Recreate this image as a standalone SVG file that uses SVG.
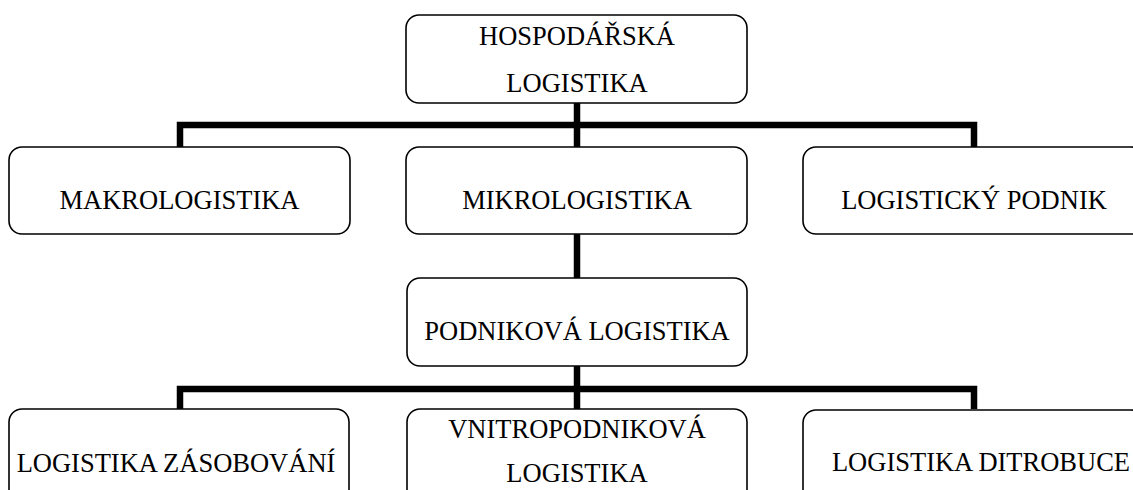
<svg xmlns="http://www.w3.org/2000/svg" width="1133" height="490" viewBox="0 0 1133 490">
<style>
.box{fill:#fff;stroke:#000;stroke-width:1.6}
.lbl{font-family:"Liberation Serif","Times New Roman",serif;font-size:26.5px;fill:#000;text-anchor:middle}
.conn{fill:none;stroke:#000;stroke-width:6.5}
</style>
<rect width="1133" height="490" fill="#fff"/>
<g id="connectors">
<path class="conn" d="M577 103V147"/>
<path class="conn" d="M180 147V125H974V147"/>
<path class="conn" d="M577 234V278"/>
<path class="conn" d="M577 366V409"/>
<path class="conn" d="M180 409V389H974V409"/>
</g>
<g id="n-hospodarska">
<rect class="box" x="406" y="15" width="341" height="88" rx="13"/>
<text class="lbl" x="577" y="45">HOSPODÁŘSKÁ</text>
<text class="lbl" x="577" y="92">LOGISTIKA</text>
</g>
<g id="n-makro">
<rect class="box" x="9" y="147" width="341" height="87" rx="13"/>
<text class="lbl" x="179.5" y="209">MAKROLOGISTIKA</text>
</g>
<g id="n-mikro">
<rect class="box" x="406" y="147" width="341" height="87" rx="13"/>
<text class="lbl" x="577" y="209">MIKROLOGISTIKA</text>
</g>
<g id="n-podnik">
<rect class="box" x="803" y="147" width="341" height="87" rx="13"/>
<text class="lbl" x="974" y="209">LOGISTICKÝ PODNIK</text>
</g>
<g id="n-podnikova">
<rect class="box" x="407" y="278" width="340" height="88" rx="13"/>
<text class="lbl" x="577" y="340">PODNIKOVÁ LOGISTIKA</text>
</g>
<g id="n-zasobovani">
<rect class="box" x="9" y="409" width="340" height="100" rx="13"/>
<text class="lbl" x="176" y="472">LOGISTIKA ZÁSOBOVÁNÍ</text>
</g>
<g id="n-vnitro">
<rect class="box" x="407" y="409" width="340" height="100" rx="13"/>
<text class="lbl" x="577" y="438">VNITROPODNIKOVÁ</text>
<text class="lbl" x="577" y="482">LOGISTIKA</text>
</g>
<g id="n-distribuce">
<rect class="box" x="803" y="410" width="341" height="100" rx="13"/>
<text class="lbl" x="981" y="471">LOGISTIKA DITROBUCE</text>
</g>
</svg>
